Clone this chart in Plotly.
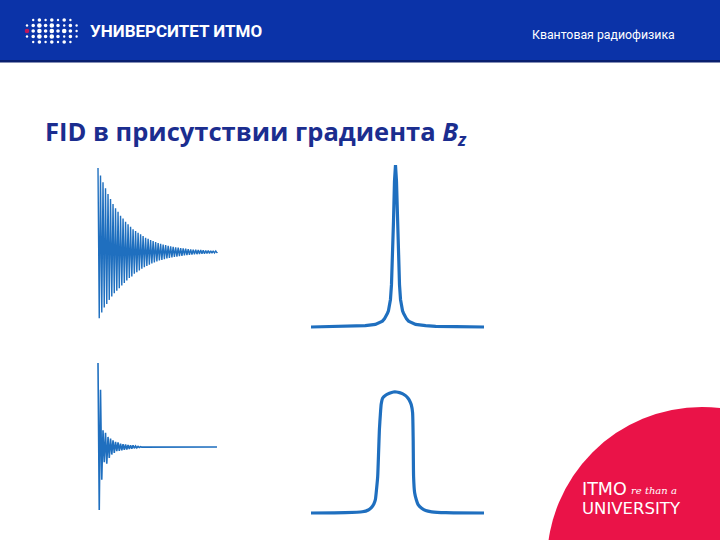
import plotly.graph_objects as go

W, H = 720, 540

# ---------------- data ----------------
# FID without gradient: successive half-cycle extremes (relative amplitude)
fid1_signal = [
    1.00, -0.79, 0.91, -0.72, 0.83, -0.66, 0.76, -0.62, 0.69, -0.57,
    0.63, -0.53, 0.57, -0.49, 0.52, -0.46, 0.48, -0.43, 0.43, -0.40,
    0.40, -0.37, 0.36, -0.34, 0.33, -0.31, 0.30, -0.29, 0.27, -0.26,
    0.25, -0.24, 0.23, -0.22, 0.21, -0.20, 0.19, -0.18, 0.17, -0.165,
    0.157, -0.15, 0.143, -0.136, 0.13, -0.124, 0.118, -0.113, 0.108, -0.10,
    0.098, -0.094, 0.09, -0.085, 0.082, -0.078, 0.074, -0.071, 0.068, -0.065,
    0.062, -0.059, 0.056, -0.054, 0.051, -0.049, 0.047, -0.045, 0.043, -0.041,
    0.039, -0.037, 0.035, -0.034, 0.032, -0.031, 0.029, -0.028, 0.027, -0.026,
    0.025, -0.024, 0.023, -0.022, 0.021, -0.02, 0.019, -0.018, 0.017, -0.016,
    0.015, -0.014, 0.013, -0.012, 0.012, -0.011,
]
# FID with gradient Bz: fast decay
fid2_signal = [
    1.00, -0.75, 0.68, -0.39, 0.20, -0.18, 0.17, -0.20, 0.12, -0.13,
    0.10, -0.09, 0.08, -0.07, 0.06, -0.05, 0.055, -0.045, 0.04, -0.04,
    0.035, -0.035, 0.03, -0.03, 0.025, -0.025, 0.02, -0.02, 0.02, -0.015,
    0.012, -0.01, 0.008, -0.006, 0.004, -0.002,
]
FID_LENGTH = 95  # last sample index of the record

# Spectrum without gradient (narrow Lorentzian)
spec1_freq = [-84, -60, -40, -30, -20, -16, -13, -11, -9, -8, -7, -6, -5, -4, -3, -2, -1, 0,
              1, 2, 3, 4, 5, 6, 7, 8, 9, 11, 13, 16, 20, 30, 40, 60, 88]
spec1_amp = [0.0, 0.002, 0.004, 0.008, 0.016, 0.025, 0.036, 0.05, 0.07, 0.085, 0.10, 0.125,
             0.17, 0.26, 0.42, 0.65, 0.90, 1.0,
             0.90, 0.65, 0.42, 0.26, 0.17, 0.125, 0.10, 0.085, 0.07, 0.05, 0.036, 0.025,
             0.016, 0.008, 0.004, 0.002, 0.0]

# Spectrum with gradient (broad, flat-topped)
spec2_freq = [-84, -50, -33, -27, -24, -21.5, -20, -18.8, -17.7, -16.8, -16, -15, -14.2, -12.7,
              -9.5, -6, -2, 1, 4, 7.3, 10, 12.3, 14.5, 15.7, 17, 17.6, 18, 19, 20.7, 22.5,
              26, 30, 36, 50, 88]
spec2_amp = [0.0, 0.003, 0.01, 0.025, 0.045, 0.075, 0.11, 0.2, 0.3, 0.5, 0.69, 0.82, 0.9, 0.95,
             0.975, 0.99, 1.0, 1.0, 0.995, 0.985, 0.97, 0.95, 0.92, 0.895, 0.83, 0.6, 0.3,
             0.17, 0.11, 0.07, 0.04, 0.02, 0.01, 0.003, 0.0]

# ---------------- styling ----------------
LINE = '#1f6fbf'
HEADER_BLUE = '#0b33a8'
TITLE_BLUE = '#1b2d8f'
ITMO_RED = '#ea1348'


def axis_pair(px_left, px_right, py_low, py_high, xr, yr, pad=5):
    sx = (px_right - px_left) / (xr[1] - xr[0])
    sy = (py_low - py_high) / (yr[1] - yr[0])
    xrange_ = [xr[0] - pad / sx, xr[1] + pad / sx]
    xdom = [(px_left - pad) / W, (px_right + pad) / W]
    yrange_ = [yr[0] - pad / sy, yr[1] + pad / sy]
    ydom = [1 - (py_low + pad) / H, 1 - (py_high - pad) / H]
    common = dict(visible=False, showgrid=False, zeroline=False, fixedrange=True)
    return (dict(domain=xdom, range=xrange_, **common),
            dict(domain=ydom, range=yrange_, **common))


fig = go.Figure()

fig.add_trace(go.Scatter(x=list(range(len(fid1_signal))) + [FID_LENGTH],
                         y=fid1_signal + [0.0], mode='lines',
                         line=dict(color=LINE, width=1.4), xaxis='x', yaxis='y',
                         hoverinfo='skip'))
fig.add_trace(go.Scatter(x=list(range(len(fid2_signal))) + [FID_LENGTH],
                         y=fid2_signal + [0.0], mode='lines',
                         line=dict(color=LINE, width=1.6), xaxis='x2', yaxis='y2',
                         hoverinfo='skip'))
fig.add_trace(go.Scatter(x=spec1_freq, y=spec1_amp, mode='lines',
                         line=dict(color=LINE, width=3.2), xaxis='x3', yaxis='y3',
                         hoverinfo='skip'))
fig.add_trace(go.Scatter(x=spec2_freq, y=spec2_amp, mode='lines',
                         line=dict(color=LINE, width=3.2, shape='spline', smoothing=0.5),
                         xaxis='x4', yaxis='y4', hoverinfo='skip'))

xa1, ya1 = axis_pair(98, 217, 336, 168, [0, FID_LENGTH], [-1, 1])
xa2, ya2 = axis_pair(98, 217, 531, 363, [0, FID_LENGTH], [-1, 1])
xa3, ya3 = axis_pair(311, 484, 327, 165, [-84, 88], [0, 1])
xa4, ya4 = axis_pair(311, 484, 513, 392, [-84, 88], [0, 1])

for k, (xa, ya) in enumerate([(xa1, ya1), (xa2, ya2), (xa3, ya3), (xa4, ya4)], start=1):
    sfx = '' if k == 1 else str(k)
    xa['anchor'] = 'y' + sfx
    ya['anchor'] = 'x' + sfx
    fig.layout['xaxis' + sfx] = xa
    fig.layout['yaxis' + sfx] = ya

shapes = []
# header band
shapes.append(dict(type='rect', xref='paper', yref='paper', x0=0, x1=1,
                   y0=1 - 60 / H, y1=1, fillcolor=HEADER_BLUE, line=dict(width=0),
                   layer='below'))
shapes.append(dict(type='rect', xref='paper', yref='paper', x0=0, x1=1,
                   y0=1 - 62.5 / H, y1=1 - 60 / H, fillcolor='#0a1f6e', line=dict(width=0),
                   layer='below'))
# red circle (ITMO emblem)
cx, cy, r = 702, 562, 155
shapes.append(dict(type='circle', xref='paper', yref='paper',
                   x0=(cx - r) / W, x1=(cx + r) / W, y0=1 - (cy + r) / H, y1=1 - (cy - r) / H,
                   fillcolor=ITMO_RED, line=dict(width=0), layer='below'))

# dotted logo in header
logo_rows = [
    " .o.o.o. ",
    ".oOoOo.o.",
    "RoOoOoOo.",
    ".oOoOo.o.",
    " .o.o.o. ",
]
size_map = {'.': 1.2, 'o': 1.8, 'O': 2.3, 'R': 2.3}
for ri, row in enumerate(logo_rows):
    for ci, ch in enumerate(row):
        if ch == ' ':
            continue
        px = 27 + ci * 6.2
        py = 20 + ri * 5.5
        s = size_map[ch]
        col = '#c0185a' if ch == 'R' else 'white'
        shapes.append(dict(type='circle', xref='paper', yref='paper',
                           x0=(px - s) / W, x1=(px + s) / W,
                           y0=1 - (py + s) / H, y1=1 - (py - s) / H,
                           fillcolor=col, line=dict(width=0)))

fig.update_layout(shapes=shapes)

ann = []
ann.append(dict(text='<b>УНИВЕРСИТЕТ ИТМО</b>', x=88 / W, y=1 - 31 / H, xref='paper', yref='paper',
                xanchor='left', yanchor='middle', showarrow=False,
                font=dict(family='Roboto', size=17, color='white')))
ann.append(dict(text='Квантовая радиофизика', x=677 / W, y=1 - 35 / H, xref='paper', yref='paper',
                xanchor='right', yanchor='middle', showarrow=False,
                font=dict(family='Roboto', size=12.3, color='white')))
ann.append(dict(text='<b>FID в присутствии градиента <i>B</i><sub><i>z</i></sub></b>',
                x=43 / W, y=1 - 132 / H, xref='paper', yref='paper',
                xanchor='left', yanchor='middle', showarrow=False,
                font=dict(family='Open Sans', size=25.5, color=TITLE_BLUE)))
ann.append(dict(text='ITMO', x=580 / W, y=1 - 489 / H, xref='paper', yref='paper',
                xanchor='left', yanchor='middle', showarrow=False,
                font=dict(family='DejaVu Sans', size=17.5, color='white')))
ann.append(dict(text='<i>re than a</i>', x=629 / W, y=1 - 490 / H, xref='paper', yref='paper',
                xanchor='left', yanchor='middle', showarrow=False,
                font=dict(family='DejaVu Serif', size=10, color='white')))
ann.append(dict(text='UNIVERSITY', x=580 / W, y=1 - 509 / H, xref='paper', yref='paper',
                xanchor='left', yanchor='middle', showarrow=False,
                font=dict(family='DejaVu Sans', size=16.5, color='white')))

fig.update_layout(annotations=ann, width=W, height=H,
                  margin=dict(l=0, r=0, t=0, b=0), showlegend=False,
                  paper_bgcolor='white', plot_bgcolor='rgba(0,0,0,0)')

fig.write_html('out.html', config={'displayModeBar': False},
               post_script="document.body.style.margin='0';document.body.style.overflow='hidden';")
